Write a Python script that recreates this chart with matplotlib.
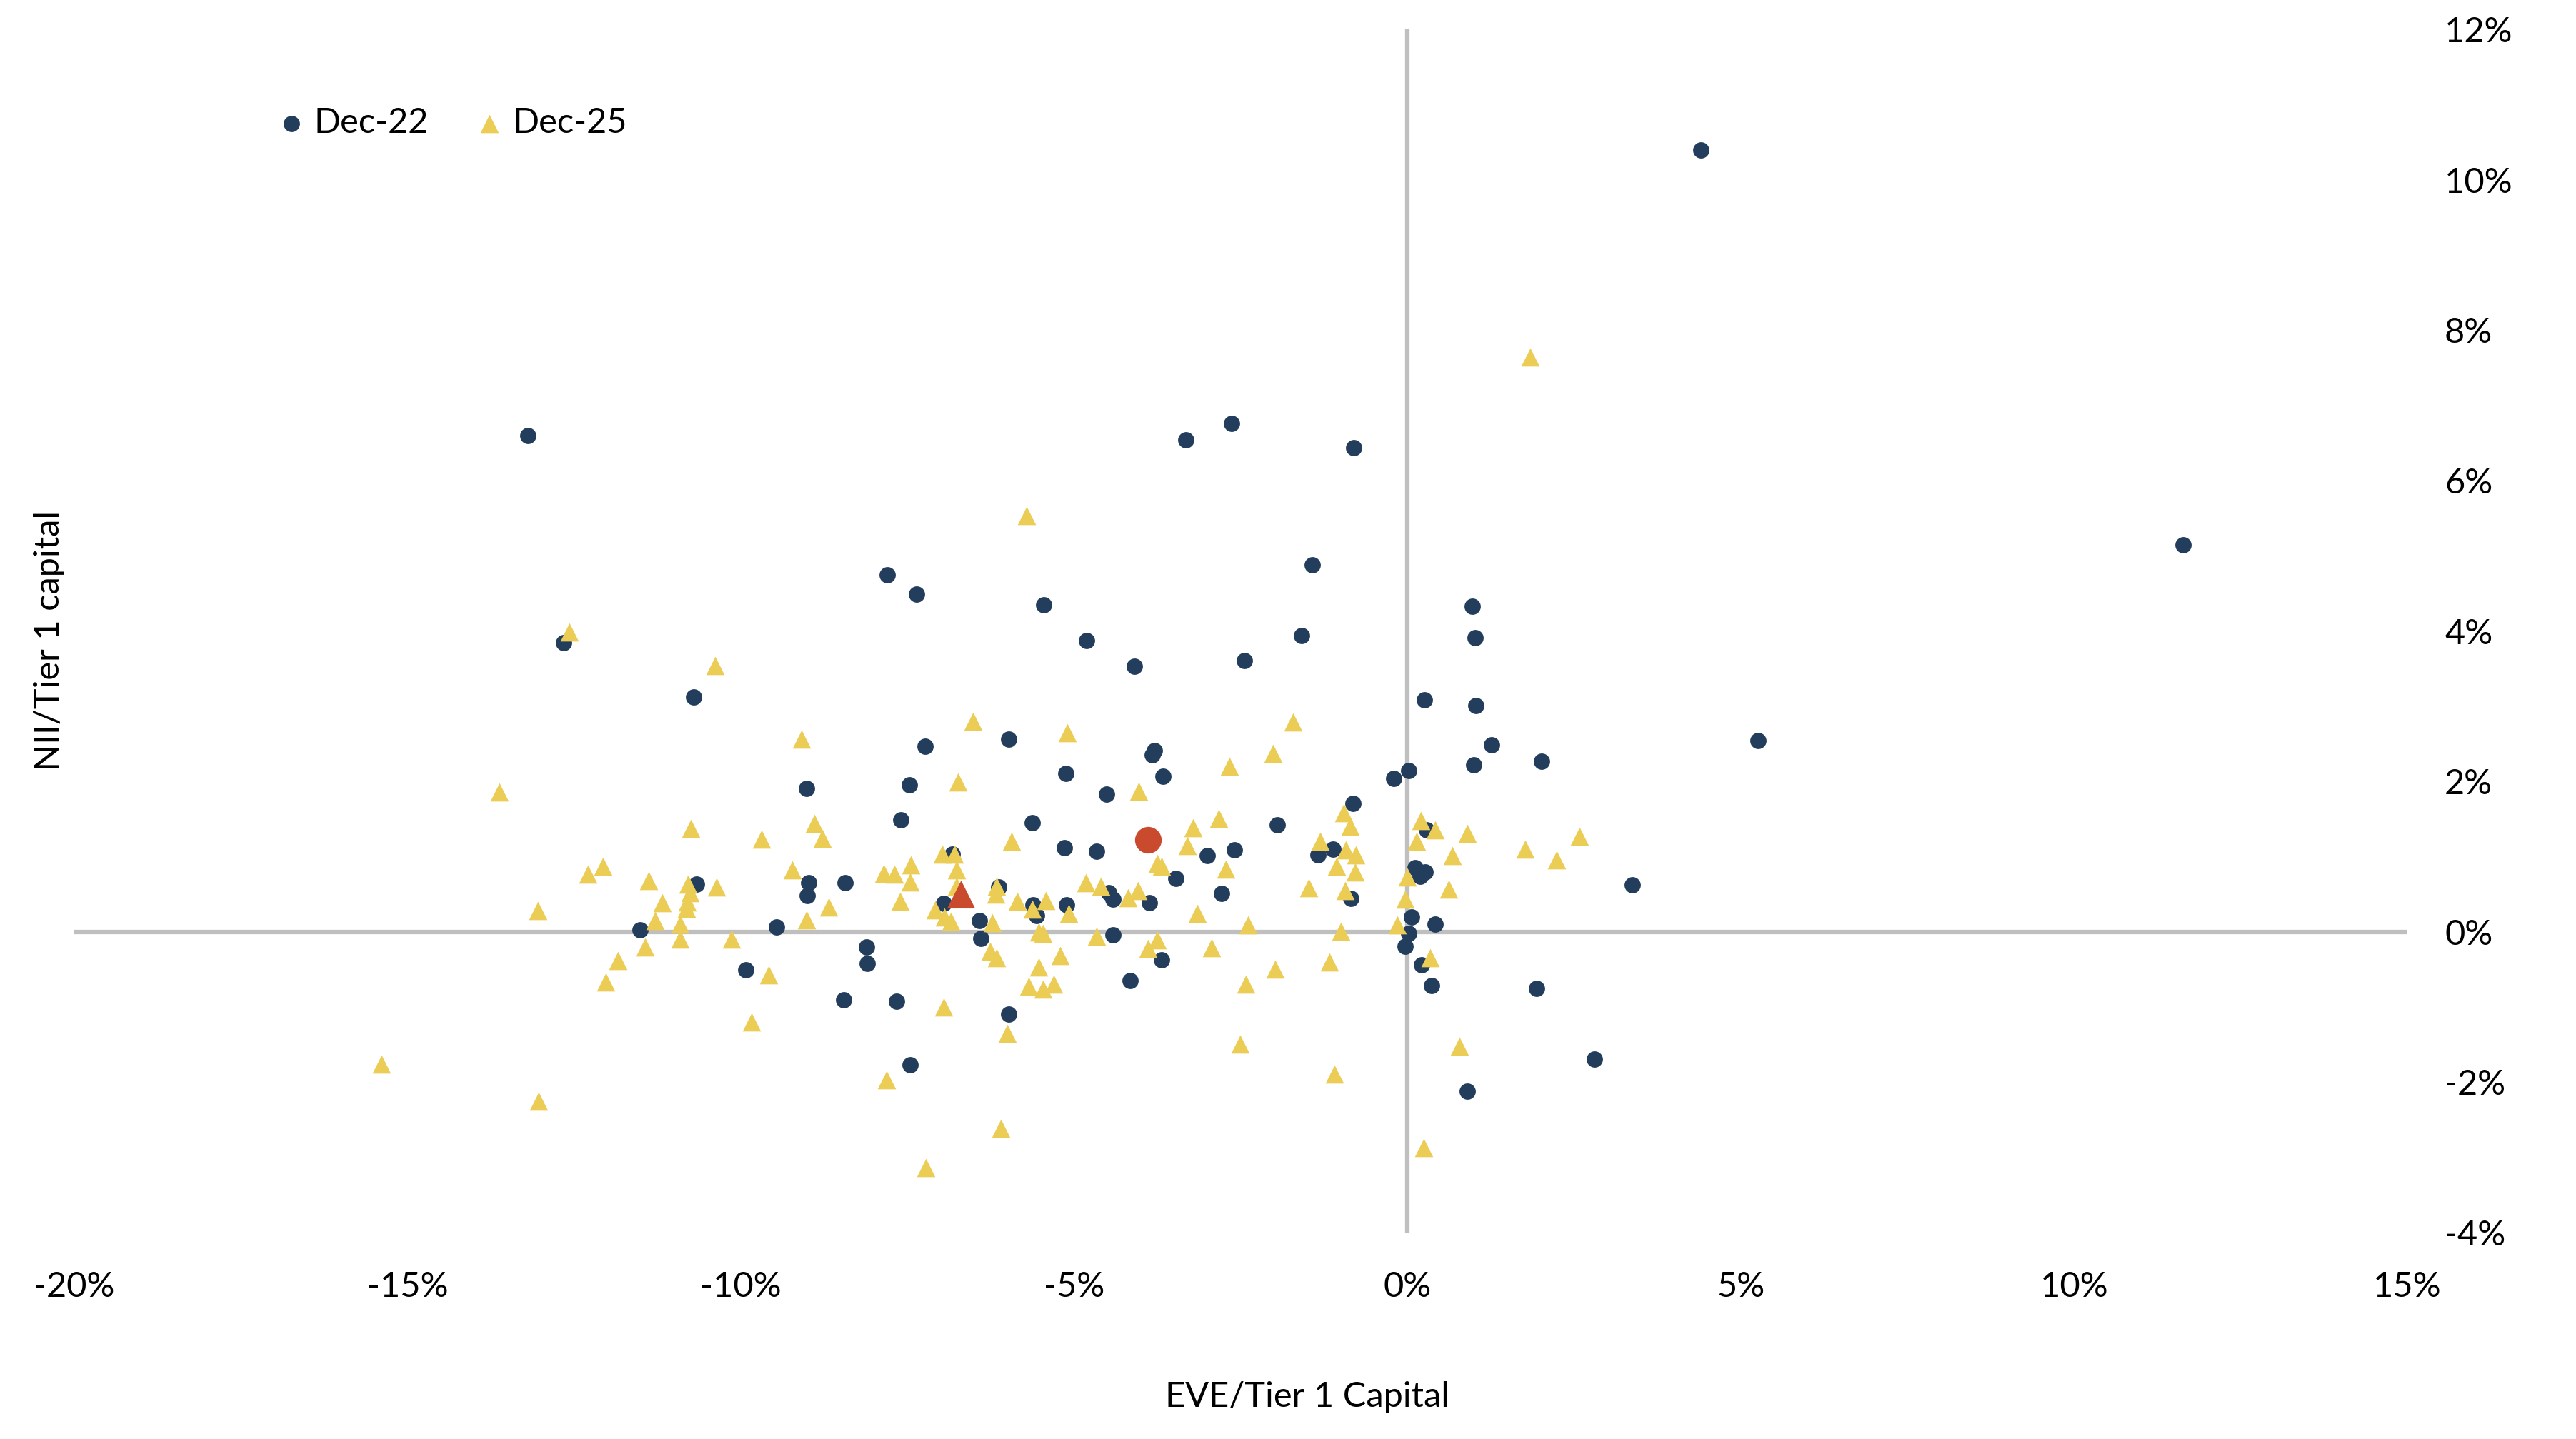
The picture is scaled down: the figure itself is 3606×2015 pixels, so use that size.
import matplotlib
matplotlib.use("Agg")
import matplotlib.pyplot as plt
from matplotlib.ticker import FuncFormatter

# ---------------- data (EVE/Tier 1 capital %, NII/Tier 1 capital %) ----------------
dec22_eve = [4.40, 11.64, -13.19, -12.66, -2.64, -3.32, -0.81, -7.80, -7.36, -1.43,
             -5.46, -1.59, -4.82, -4.10, -2.45, 0.97, 1.01, -10.71, 0.25, 1.03,
             1.26, 2.01, 0.99, 5.26, -5.98, -7.24, -3.80, -3.83, -3.67, -5.13,
             0.02, -0.21, -9.02, -7.47, -4.51, -0.82, -7.60, -5.63, -1.95, -4.66,
             -5.15, -3.00, -2.60, -1.34, -1.12, -6.83, 0.11, 0.19, 0.27, 0.29,
             -10.67, -8.98, -8.44, -9.00, -3.48, -2.79, -6.13, -6.96, -0.85, -4.48,
             -4.42, -3.87, -5.62, -5.57, -5.11, 3.37, -6.42, -4.42, -6.40, -11.51,
             -9.47, 0.06, 0.41, 0.02, -0.04, -8.12, -8.10, -9.93, -3.69, 0.21,
             0.36, 1.94, -4.16, -8.46, -7.66, -5.98, 2.81, -7.46, 0.90]
dec22_nii = [10.40, 5.14, 6.60, 3.84, 6.76, 6.54, 6.44, 4.75, 4.49, 4.88,
             4.35, 3.94, 3.87, 3.53, 3.61, 4.33, 3.91, 3.12, 3.08, 3.01,
             2.49, 2.27, 2.22, 2.54, 2.56, 2.47, 2.41, 2.35, 2.07, 2.11,
             2.14, 2.04, 1.91, 1.95, 1.83, 1.71, 1.49, 1.45, 1.42, 1.07,
             1.12, 1.01, 1.09, 1.02, 1.10, 1.03, 0.85, 0.74, 0.80, 1.36,
             0.63, 0.65, 0.65, 0.48, 0.71, 0.51, 0.60, 0.38, 0.44, 0.52,
             0.43, 0.39, 0.36, 0.22, 0.36, 0.62, 0.15, -0.04, -0.09, 0.03,
             0.06, 0.20, 0.10, -0.02, -0.19, -0.20, -0.42, -0.51, -0.37, -0.44,
             -0.71, -0.75, -0.65, -0.90, -0.92, -1.09, -1.69, -1.77, -2.12]

dec25_eve = [-12.57, -10.39, -9.09, -13.62, -10.75, -9.69, -8.90, -8.78, -12.30, -12.07,
             -11.38, -10.79, -10.37, -9.23, -11.18, -10.76, -10.80, -10.82, -10.91, -10.91,
             -11.29, -13.04, -10.14, -11.44, -11.84, -12.03, -9.58, -9.84, -8.68, -9.02,
             -7.86, -7.70, -7.45, -7.46, -7.61, -15.39, -13.03, -7.82, -7.23,
             -6.52, -5.10, -6.74, -4.03, -1.72, -2.02, -2.67, -5.94, -6.98, -6.80,
             -6.77, -6.76, -7.09, -6.95, -6.85, -6.17, -6.18, -6.23, -6.26, -6.17,
             -5.85, -5.63, -5.43, -5.53, -5.47, -5.21, -5.53, -5.68, -5.47, -5.31,
             -5.08, -4.83, -4.60, -4.19, -4.04, -4.66, -3.89, -3.75, -3.75, -3.69,
             -3.30, -3.22, -2.83, -2.73, -3.15, -2.39, -2.94, -1.99, -2.43, -2.51,
             -1.48, -1.31, -1.06, -0.96, -0.86, -0.92, -0.77, -0.79, -0.94, -1.00,
             -1.17, -1.10, 0.20, 0.41, 0.14, 0.00, -0.04, -0.15, 0.34, 0.90,
             0.67, 0.62, 0.78, 0.24, -6.96, -6.00, -6.10, 1.76, 2.24, 2.58,
             1.84, -5.71]
dec25_nii = [3.99, 3.54, 2.56, 1.86, 1.37, 1.23, 1.44, 1.24, 0.77, 0.87,
             0.68, 0.63, 0.60, 0.82, 0.39, 0.52, 0.40, 0.31, 0.10, -0.10,
             0.15, 0.28, -0.10, -0.20, -0.38, -0.67, -0.57, -1.20, 0.33, 0.16,
             0.78, 0.77, 0.89, 0.66, 0.41, -1.76, -2.25, -1.97, -3.14,
             2.80, 2.65, 1.99, 1.87, 2.79, 2.37, 2.20, 1.20, 1.03, 1.03,
             0.82, 0.61, 0.29, 0.20, 0.14, 0.61, 0.50, 0.12, -0.26, -0.34,
             0.41, 0.30, 0.42, 0.00, -0.02, -0.32, -0.47, -0.72, -0.76, -0.70,
             0.24, 0.65, 0.61, 0.45, 0.55, -0.06, -0.22, -0.11, 0.91, 0.87,
             1.15, 1.38, 1.51, 0.83, 0.24, 0.09, -0.21, -0.50, -0.70, -1.49,
             0.59, 1.20, 0.87, 1.58, 1.40, 1.09, 1.02, 0.80, 0.55, 0.01,
             -0.40, -1.89, 1.48, 1.36, 1.20, 0.73, 0.43, 0.09, -0.34, 1.31,
             1.01, 0.57, -1.52, -2.87, -1.00, -1.35, -2.61, 1.10, 0.96, 1.27,
             7.64, 5.53]

# highlighted (average) points
avg22_eve, avg22_nii = [-3.89], [1.22]
avg25_eve, avg25_nii = [-6.70], [0.50]

series_labels = ["Dec-22", "Dec-25"]
xticks = [-20, -15, -10, -5, 0, 5, 10, 15]
yticks = [-4, -2, 0, 2, 4, 6, 8, 10, 12]

# ---------------- styling ----------------
NAVY = "#233D5C"
YELLOW = "#EBCD55"
RED = "#C94A2D"
GREY = "#BFBFBF"
plt.rcParams["font.family"] = ["Lato", "DejaVu Sans"]
FS = 11.7

W, H, DPI = 3606, 2015, 300
fig = plt.figure(figsize=(W / DPI, H / DPI), dpi=DPI)
ax = fig.add_axes([104 / W, 1 - 1726 / H, (3370 - 104) / W, (1726 - 41) / H])

ax.axhline(0, color=GREY, lw=1.5, zorder=1)
ax.axvline(0, color=GREY, lw=1.5, zorder=1)

ax.scatter(dec22_eve, dec22_nii, s=30, marker="o", color=NAVY, linewidths=0,
           zorder=3, label=series_labels[0])
ax.scatter(dec25_eve, dec25_nii, s=38, marker="^", color=YELLOW, linewidths=0,
           zorder=4, label=series_labels[1])
ax.scatter(avg22_eve, avg22_nii, s=80, marker="o", color=RED, linewidths=0, zorder=5)
ax.scatter(avg25_eve, avg25_nii, s=88, marker="^", color=RED, linewidths=0, zorder=5)

ax.set_xlim(-20, 15)
ax.set_ylim(-4, 12)
ax.set_xticks(xticks)
ax.set_yticks(yticks)
ax.xaxis.set_major_formatter(FuncFormatter(lambda v, p: f"{v:.0f}%"))
ax.yaxis.set_major_formatter(FuncFormatter(lambda v, p: f"{v:.0f}%"))
ax.yaxis.tick_right()
for s in ax.spines.values():
    s.set_visible(False)
ax.tick_params(axis="x", length=0, pad=13.0, labelsize=FS, colors="black")
ax.tick_params(axis="y", length=0, pad=12.5, labelsize=FS, colors="black")
for lbl in ax.get_yticklabels():
    lbl.set_horizontalalignment("left")

fig.text(1830 / W, 1 - 1956 / H, "EVE/Tier 1 Capital", ha="center", va="center",
         fontsize=FS)
fig.text(69 / W, 1 - 897 / H, "NII/Tier 1 capital", ha="center", va="center",
         rotation=90, fontsize=FS)

leg = ax.legend(loc="center left", bbox_to_anchor=(388 / W, 1 - 172 / H),
                bbox_transform=fig.transFigure, ncol=2, frameon=False,
                fontsize=FS, handlelength=0.8, handletextpad=0.26,
                columnspacing=1.34, borderpad=0, borderaxespad=0,
                scatterpoints=1)

fig.savefig("out.png", dpi=DPI, facecolor="white")
